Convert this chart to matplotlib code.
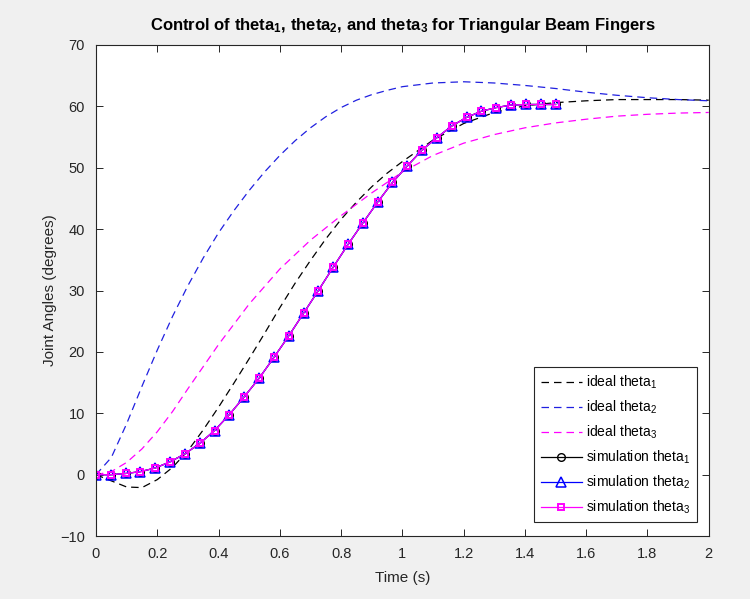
import numpy as np
import matplotlib
matplotlib.use("Agg")
import matplotlib.pyplot as plt

plt.rcParams['font.family'] = ['Liberation Sans', 'DejaVu Sans']
plt.rcParams['mathtext.fontset'] = 'custom'
plt.rcParams['mathtext.rm'] = 'Liberation Sans'
plt.rcParams['mathtext.it'] = 'Liberation Sans'
plt.rcParams['mathtext.bf'] = 'Liberation Sans:bold'

# Ideal trajectories
t_ideal1 = [0, 0.05, 0.1, 0.15, 0.2, 0.25, 0.3, 0.35, 0.4, 0.45, 0.5, 0.55, 0.6, 0.65, 0.7,
            0.75, 0.8, 0.85, 0.9, 0.95, 1.0, 1.1, 1.2, 1.3, 1.4, 1.5, 1.6, 1.7, 1.8, 1.9, 2.0]
ideal1 = [0, -1.0, -2.0, -2.1, -0.8, 1.2, 3.9, 7.3, 11.0, 14.9, 18.9, 23.0, 27.2, 31.2, 34.9,
          38.4, 41.6, 44.4, 46.9, 49.1, 51.0, 54.5, 57.2, 59.0, 60.1, 60.6, 60.9, 61.1, 61.1, 61.1, 61.0]

t_ideal2 = [0, 0.05, 0.1, 0.15, 0.2, 0.25, 0.3, 0.35, 0.4, 0.45, 0.5, 0.55, 0.6, 0.65, 0.7,
            0.75, 0.8, 0.85, 0.9, 0.95, 1.0, 1.1, 1.2, 1.3, 1.4, 1.5, 1.6, 1.7, 1.8, 1.9, 2.0]
ideal2 = [0, 2.8, 8.3, 14.4, 20.3, 25.8, 30.8, 35.3, 39.4, 43.0, 46.3, 49.3, 52.0, 54.4, 56.5,
          58.3, 59.8, 61.0, 61.9, 62.6, 63.2, 63.8, 64.0, 63.8, 63.4, 62.9, 62.3, 61.8, 61.4, 61.1, 60.9]

t_ideal3 = [0, 0.05, 0.1, 0.15, 0.2, 0.25, 0.3, 0.4, 0.5, 0.6, 0.7, 0.8, 0.9, 1.0,
            1.1, 1.2, 1.3, 1.4, 1.5, 1.6, 1.7, 1.8, 1.9, 2.0]
ideal3 = [0, 0.5, 2.0, 4.2, 7.0, 10.3, 14.0, 21.2, 27.8, 33.5, 38.2, 42.2, 45.9, 49.3,
          52.0, 54.0, 55.4, 56.5, 57.3, 57.9, 58.4, 58.7, 58.9, 59.0]

# Simulation samples (32 samples from 0 to 1.5 s)
t_sim = np.linspace(0, 1.5, 32)
sim = [0, 0.0, 0.2, 0.5, 1.1, 2.1, 3.4, 5.1, 7.2, 9.8, 12.7, 15.7, 19.1, 22.6, 26.3, 30.0,
       33.8, 37.5, 41.0, 44.4, 47.6, 50.3, 52.9, 54.9, 56.8, 58.2, 59.2, 59.8, 60.2, 60.3,
       60.3, 60.3]
sim1 = sim
sim2 = sim
sim3 = sim

xticks = [0, 0.2, 0.4, 0.6, 0.8, 1, 1.2, 1.4, 1.6, 1.8, 2]
xticklabels = ['0', '0.2', '0.4', '0.6', '0.8', '1', '1.2', '1.4', '1.6', '1.8', '2']
yticks = [-10, 0, 10, 20, 30, 40, 50, 60, 70]

bg = '#f0f0f0'
fig = plt.figure(figsize=(7.5, 5.99), dpi=100, facecolor=bg)
ax = fig.add_axes([0.128, 0.105, 0.817, 0.820])

lw = 0.9
ax.plot(t_ideal1, ideal1, '--', color='black', lw=lw, dashes=(6, 4), label=r'ideal theta$_1$')
ax.plot(t_ideal2, ideal2, '--', color='#2020e0', lw=lw, dashes=(6, 4), label=r'ideal theta$_2$')
ax.plot(t_ideal3, ideal3, '--', color='#ff00ff', lw=lw, dashes=(6, 4), label=r'ideal theta$_3$')
ax.plot(t_sim, sim1, '-', color='black', lw=lw, marker='o', ms=5.5, mfc='none', mew=1.0,
        label=r'simulation theta$_1$')
ax.plot(t_sim, sim2, '-', color='#0000ff', lw=lw, marker='^', ms=7, mfc='none', mew=1.1,
        label=r'simulation theta$_2$')
ax.plot(t_sim, sim3, '-', color='#ff00ff', lw=lw, marker='s', ms=4.8, mfc='none', mew=1.4,
        label=r'simulation theta$_3$')

ax.set_xlim(0, 2)
ax.set_ylim(-10, 70)
ax.set_xticks(xticks)
ax.set_xticklabels(xticklabels)
ax.set_yticks(yticks)
ax.tick_params(direction='in', top=True, right=True, length=5, width=0.7,
               labelsize=10.5, colors='#262626', pad=8)
for s in ax.spines.values():
    s.set_linewidth(0.8)
    s.set_color('#262626')

ax.set_xlabel('Time (s)', fontsize=11, color='#262626', labelpad=7)
ax.set_ylabel('Joint Angles (degrees)', fontsize=11, color='#262626', labelpad=2)
ax.set_title(r'Control of theta$_\mathbf{1}$, theta$_\mathbf{2}$, and theta$_\mathbf{3}$ for Triangular Beam Fingers',
             fontsize=12, fontweight='bold', color='black', pad=11)

leg = ax.legend(loc='lower right', bbox_to_anchor=(0.992, 0.014), fontsize=10,
                fancybox=False, framealpha=1, edgecolor='#262626',
                handlelength=3.0, handletextpad=0.3, labelspacing=0.55,
                borderpad=0.45)
leg.get_frame().set_linewidth(0.8)

fig.savefig('out.png', dpi=100, facecolor=bg)
